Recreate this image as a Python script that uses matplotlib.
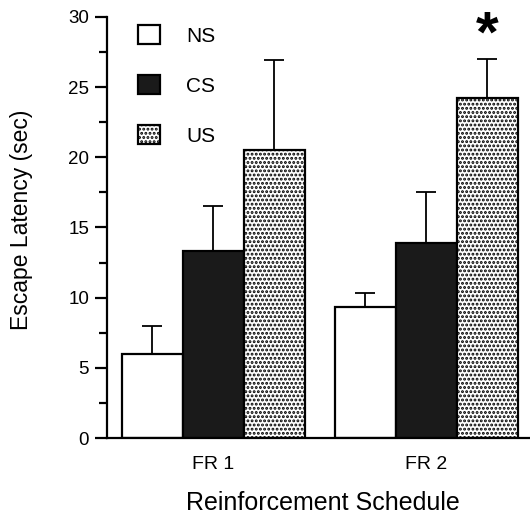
import numpy as np
import matplotlib
matplotlib.use("Agg")
import matplotlib.pyplot as plt

plt.rcParams["font.family"] = ["Liberation Sans", "DejaVu Sans"]
plt.rcParams["hatch.linewidth"] = 1.4

schedules = ["FR 1", "FR 2"]
groups = ["NS", "CS", "US"]
means = {"NS": [6.0, 9.3], "CS": [13.35, 13.9], "US": [20.5, 24.2]}
errors = {"NS": [2.0, 1.05], "CS": [3.2, 3.6], "US": [6.4, 2.8]}
star_label = "*"

colors = {"NS": "white", "CS": "#1a1a1a", "US": "white"}
hatches = {"NS": None, "CS": None, "US": "...."}

fig = plt.figure(figsize=(5.3, 5.25), dpi=100)
ax = fig.add_axes([0.202, 0.1657, 0.798, 0.802])

x = np.array([0, 3.5])
width = 1.0
for i, g in enumerate(groups):
    pos = x + (i - 1) * width
    ax.bar(pos, means[g], width, color=colors[g], edgecolor="black",
           linewidth=1.6, hatch=hatches[g], label=g, zorder=2)
    ax.errorbar(pos, means[g], yerr=[np.zeros(2), errors[g]], fmt="none",
                ecolor="black", elinewidth=1.3, capsize=7.5, capthick=1.3,
                zorder=1)

# significance mark over FR 2 / US
ax.text(x[1] + width, 28.6, star_label, ha="center", va="center",
        fontsize=42, fontweight="bold")

ax.set_xlim(-1.74, 5.2)
ax.set_ylim(0, 30)
ax.set_xticks(x)
ax.set_xticklabels(schedules, fontsize=14)
ax.tick_params(axis="x", length=0, pad=13)
ax.set_yticks(np.arange(0, 31, 5))
ax.set_yticks(np.arange(2.5, 30, 5), minor=True)
ax.tick_params(axis="y", which="major", length=9, width=1.6, labelsize=13.5, pad=4)
ax.tick_params(axis="y", which="minor", length=5.5, width=1.6)

for s in ["top", "right"]:
    ax.spines[s].set_visible(False)
ax.spines["left"].set_linewidth(1.6)
ax.spines["bottom"].set_linewidth(1.6)

ax.set_ylabel("Escape Latency (sec)", fontsize=16.5)
ax.yaxis.set_label_coords(-0.175, 0.518)
ax.set_xlabel("Reinforcement Schedule", fontsize=18)
ax.xaxis.set_label_coords(0.51, -0.127)

ax.legend(loc="upper left", bbox_to_anchor=(0.073, 0.981), frameon=False,
          fontsize=15, handlelength=1.06, handleheight=1.06,
          handletextpad=1.25, labelspacing=1.4, borderpad=0,
          borderaxespad=0)

fig.savefig("out.png", dpi=100)
